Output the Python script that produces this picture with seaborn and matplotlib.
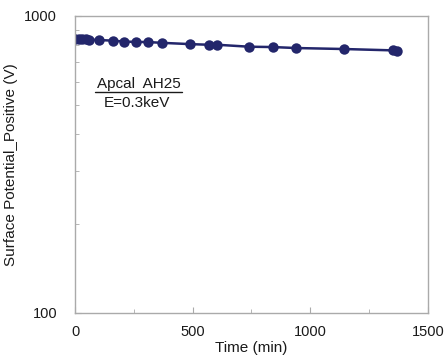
import matplotlib
matplotlib.use("Agg")
import matplotlib.pyplot as plt
import seaborn as sns
import pandas as pd
from matplotlib.ticker import LogLocator, NullFormatter, FixedLocator

time_min = [0, 15, 30, 45, 60, 100, 160, 210, 260, 310, 370, 490, 570, 605, 740, 840, 940, 1145, 1350, 1370]
potential_v = [836, 836, 835, 834, 833, 830, 826, 820, 818, 817, 812, 804, 800, 800, 788, 786, 780, 774, 766, 765]
x_ticks = [0, 500, 1000, 1500]
y_ticks = [100, 1000]

sns.set_style("white")
plt.rcParams['font.family'] = ['Liberation Sans', 'DejaVu Sans']

df = pd.DataFrame({"t": time_min, "v": potential_v})
fig = plt.figure(figsize=(4.47, 3.6), dpi=100)
ax = fig.add_axes([0.168, 0.1306, 0.789, 0.825])
sns.lineplot(data=df, x="t", y="v", ax=ax, color="#23266b", marker="o",
             markersize=7.5, markeredgewidth=0, linewidth=1.8, sort=False)
ax.set_yscale("log")
ax.set_xlim(0, 1500)
ax.set_ylim(100, 1000)
ax.xaxis.set_major_locator(FixedLocator(x_ticks))
ax.xaxis.set_minor_locator(FixedLocator([250, 750, 1250]))
ax.yaxis.set_major_locator(FixedLocator(y_ticks))
ax.yaxis.set_minor_locator(LogLocator(base=10, subs=range(2, 10)))
ax.yaxis.set_minor_formatter(NullFormatter())
ax.set_yticklabels([str(v) for v in y_ticks])
ax.set_xticklabels([str(v) for v in x_ticks])
for s in ax.spines.values():
    s.set_color("#aaaaaa")
    s.set_linewidth(1.0)
ax.tick_params(axis="both", which="both", direction="in", color="#aaaaaa",
               labelsize=10.5, labelcolor="#1a1a1a", bottom=True, left=True,
               top=False, right=False)
ax.tick_params(axis="x", which="major", length=4, pad=9)
ax.tick_params(axis="y", which="major", length=4, pad=13)
ax.tick_params(axis="both", which="minor", length=3)
ax.set_xlabel("Time (min)", fontsize=11, color="#1a1a1a")
ax.set_ylabel("Surface Potential_Positive (V)", fontsize=11, color="#1a1a1a")
ax.xaxis.set_label_coords(0.5, -0.095)
ax.yaxis.set_label_coords(-0.163, 0.5)
ax.text(0.18, 0.757, "Apcal  AH25", transform=ax.transAxes, ha="center",
        va="baseline", fontsize=11, color="#1a1a1a")
ax.plot([0.057, 0.303], [0.745, 0.745], transform=ax.transAxes, color="#1a1a1a", lw=1.0)
ax.text(0.174, 0.692, "E=0.3keV", transform=ax.transAxes, ha="center",
        va="baseline", fontsize=11, color="#1a1a1a")
fig.savefig("out.png", dpi=100)
